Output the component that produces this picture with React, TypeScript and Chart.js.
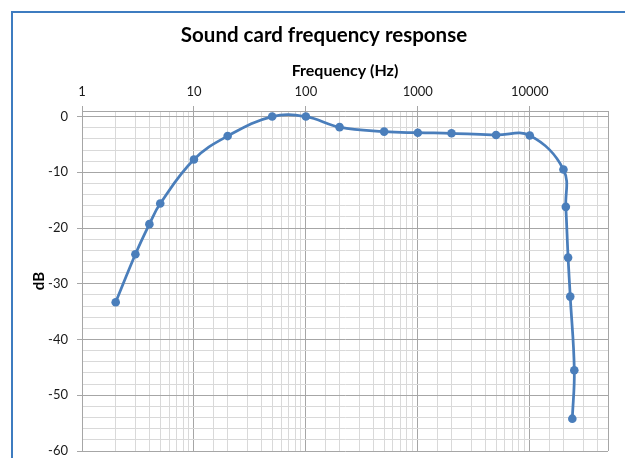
import React, { useEffect, useRef } from "react";
import { Chart, registerables } from "chart.js";

Chart.register(...registerables);

// ---- data ----
const frequenciesHz = [2, 3, 4, 5, 10, 20, 50, 100, 200, 500, 1000, 2000, 5000, 10000, 20000, 21000, 22000, 23000, 25000, 24000];
const responseDb = [-33.3, -24.7, -19.3, -15.6, -7.7, -3.5, 0.0, 0.0, -1.9, -2.7, -2.9, -3.0, -3.3, -3.4, -9.5, -16.2, -25.3, -32.3, -45.5, -54.2];
const xLabelTicks = [1, 10, 100, 1000, 10000];
const yLabelTicks = [0, -10, -20, -30, -40, -50, -60];

const chartTitle = "Sound card frequency response";
const xTitle = "Frequency (Hz)";
const yTitle = "dB";

const FONT = "Lato, 'Open Sans', 'DejaVu Sans', sans-serif";
const LINE_BLUE = "#4A7EBB";
const FRAME_BLUE = "#3E7CC0";
const MAJOR_GRID = "#A6A6A6";
const MINOR_GRID = "#D9D9D9";
const TEXT = "#1a1a1a";

export default function App() {
  const ref = useRef<HTMLCanvasElement>(null);

  useEffect(() => {
    if (!ref.current) return;
    Chart.defaults.font.family = FONT;

    const isXMajor = (v: number) => xLabelTicks.some((t) => Math.abs(t - v) < 1e-6) || v === 50000;
    const isYMajor = (v: number) => yLabelTicks.includes(v);

    const framePlugin = {
      id: "frame",
      beforeDraw(chart: any) {
        const ctx = chart.ctx;
        ctx.save();
        ctx.fillStyle = "#ffffff";
        ctx.fillRect(0, 0, chart.width, chart.height);
        ctx.strokeStyle = FRAME_BLUE;
        ctx.lineWidth = 2;
        ctx.beginPath();
        ctx.moveTo(12, chart.height + 5);
        ctx.lineTo(12, 12);
        ctx.lineTo(chart.width + 5, 12);
        ctx.stroke();
        ctx.restore();
      },
      afterDraw(chart: any) {
        const ctx = chart.ctx;
        ctx.save();
        ctx.fillStyle = "#000000";
        ctx.font = `bold 20.5px ${FONT}`;
        ctx.textAlign = "center";
        ctx.textBaseline = "alphabetic";
        ctx.fillText(chartTitle, 324, 42);
        ctx.restore();
      },
    };

    const chart = new Chart(ref.current, {
      type: "scatter",
      data: {
        datasets: [
          {
            data: frequenciesHz.map((f, i) => ({ x: f, y: responseDb[i] })),
            showLine: true,
            borderColor: LINE_BLUE,
            backgroundColor: LINE_BLUE,
            borderWidth: 2.75,
            pointRadius: 4.3,
            pointBorderWidth: 0,
            pointBackgroundColor: LINE_BLUE,
            tension: 0.4,
          },
        ],
      },
      options: {
        responsive: false,
        animation: false,
        devicePixelRatio: 1,
        layout: { padding: { left: 12, right: 17, top: 44, bottom: 7 } },
        plugins: {
          legend: { display: false },
          tooltip: { enabled: false },
          title: { display: false },
        },
        scales: {
          x: {
            type: "logarithmic",
            position: "top",
            min: 1,
            max: 50000,
            afterFit: (s: any) => {
              s.height = 67;
              s.paddingLeft = 0;
              s.paddingRight = 0;
            },
            title: {
              display: true,
              text: xTitle,
              color: "#000000",
              font: { family: FONT, size: 16, weight: "bold" },
              padding: { top: 17.5, bottom: 0 },
            },
            ticks: {
              autoSkip: false,
              maxRotation: 0,
              minRotation: 0,
              padding: 6,
              color: TEXT,
              font: { family: FONT, size: 13 },
              callback: (v: any) => (isXMajor(Number(v)) && Number(v) !== 50000 ? String(v) : ""),
            },
            grid: {
              drawTicks: true,
              tickLength: 5,
              lineWidth: 1,
              color: (c: any) => (c.tick && isXMajor(c.tick.value) ? MAJOR_GRID : MINOR_GRID),
              tickColor: (c: any) => (c.tick && isXMajor(c.tick.value) && c.tick.value !== 50000 ? MAJOR_GRID : "rgba(0,0,0,0)"),
            },
            border: { display: true, color: MAJOR_GRID, width: 1 },
          },
          y: {
            type: "linear",
            min: -60,
            max: 1,
            afterFit: (s: any) => {
              s.width = 70;
              s.paddingTop = 0;
              s.paddingBottom = 0;
            },
            title: {
              display: true,
              text: yTitle,
              color: "#000000",
              font: { family: FONT, size: 15, weight: "bold" },
              padding: { top: 18.5, bottom: 0 },
            },
            ticks: {
              stepSize: 2,
              includeBounds: false,
              autoSkip: false,
              padding: 9,
              color: TEXT,
              font: { family: FONT, size: 13 },
              callback: (v: any) => (isYMajor(Number(v)) ? String(v) : ""),
            },
            grid: {
              drawTicks: true,
              tickLength: 5,
              lineWidth: 1,
              color: (c: any) => (c.tick && isYMajor(c.tick.value) ? MAJOR_GRID : MINOR_GRID),
              tickColor: (c: any) => (c.tick && isYMajor(c.tick.value) ? MAJOR_GRID : "rgba(0,0,0,0)"),
            },
            border: { display: true, color: MAJOR_GRID, width: 1 },
          },
        },
      },
      plugins: [framePlugin],
    } as any);

    return () => chart.destroy();
  }, []);

  return (
    <div style={{ position: "absolute", left: 0, top: 0, width: 625, height: 458 }}>
      <canvas ref={ref} width={625} height={458} style={{ display: "block" }} />
    </div>
  );
}
